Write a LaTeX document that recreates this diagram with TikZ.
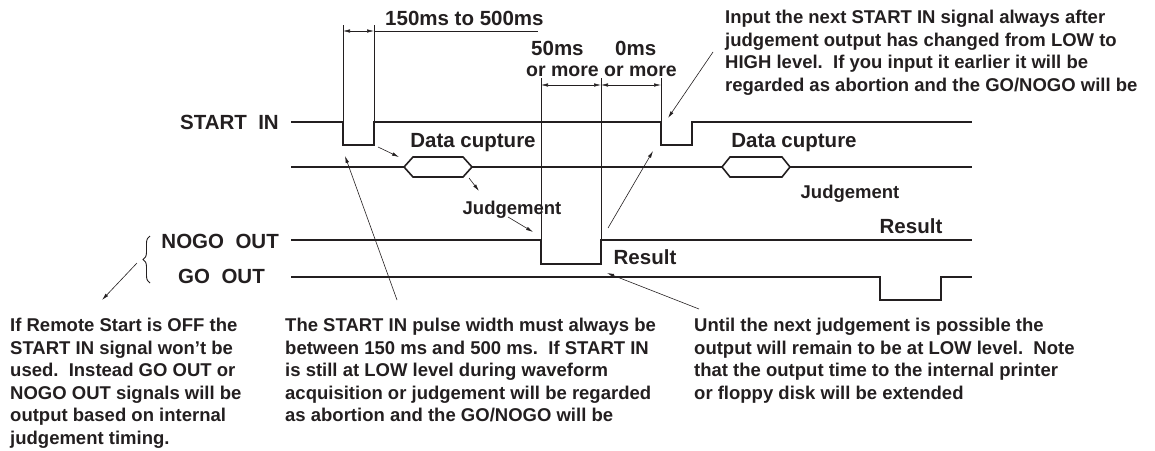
\documentclass[tikz,border=0pt]{standalone}
\usepackage{fontspec}
\setmainfont{Liberation Sans}
\usepackage{xcolor}
\usetikzlibrary{positioning,arrows.meta,calc,decorations.pathreplacing}
\definecolor{ink}{HTML}{231F20}
\tikzset{
  sig/.style={line width=1.6pt,line join=miter,ink},
  dimline/.style={line width=0.6pt,ink},
  dimarrow/.style={{Latex[length=7pt,width=3.5pt]}-{Latex[length=7pt,width=3.5pt]},line width=0.6pt,ink},
  callout/.style={-{Latex[length=7pt,width=3.5pt]},line width=0.6pt,ink},
  siglbl/.style={font=\fontsize{20.5}{24}\selectfont\bfseries,inner sep=0pt,anchor=east,text=ink},
  tlbl/.style={font=\fontsize{20.5}{24}\selectfont\bfseries,inner sep=0pt,text=ink},
  small/.style={font=\fontsize{18.5}{22}\selectfont\bfseries,inner sep=0pt,text=ink},
  para/.style={font=\fontsize{18.5}{22.5}\selectfont\bfseries,inner sep=0pt,
               align=left,anchor=north west,text=ink},
}

\begin{document}
\begin{tikzpicture}[x=1pt,y=-1pt]
  \useasboundingbox (0,0) rectangle (1155,450);

  % signal names
  \node[siglbl] (startlbl) at (279,122) {START\ \ IN};
  \node[siglbl] (nogolbl) at (279,241) {NOGO\ \ OUT};
  \node[siglbl] (golbl) at (265,276) {GO\ \ OUT};
  \coordinate (brtop) at (150,236);
  \coordinate (brbot) at (150,283);
  \coordinate (brtip) at (137,263);
  \draw[line width=0.9pt,ink,decorate,decoration={brace,amplitude=7pt}] (brbot) -- (brtop);

  % waveforms
  \draw[sig] (291,122) -- (343,122) -- (343,145) -- (374,145) -- (374,122)
    -- (661,122) -- (661,145) -- (692,145) -- (692,122) -- (972,122);
  \draw[sig] (291,167) -- (404,167) -- (413,157) -- (463,157) -- (472,167)
    -- (463,177) -- (413,177) -- (404,167);
  \draw[sig] (472,167) -- (722,167) -- (730,157) -- (782,157) -- (790,167)
    -- (782,177) -- (730,177) -- (722,167);
  \draw[sig] (790,167) -- (972,167);
  \draw[sig] (291,240) -- (541,240) -- (541,264) -- (601,264) -- (601,240) -- (972,240);
  \draw[sig] (291,277) -- (880,277) -- (880,300) -- (941,300) -- (941,277) -- (972,277);

  % timing marks
  \coordinate (w1) at (343,31);
  \coordinate (w2) at (374,31);
  \coordinate (w3) at (538,31);
  \draw[dimline] (343,122) -- (343,25);
  \draw[dimline] (374,122) -- (374,25);
  \draw[dimline] (w2) -- (w3);
  \draw[dimarrow] (w1) -- (w2);
  \node[tlbl,anchor=south west] (t150) at (385,26) {150ms to 500ms};

  \coordinate (m1) at (541,85);
  \coordinate (m2) at (601,85);
  \coordinate (m3) at (661,85);
  \draw[dimline] (541,240) -- (541,78);
  \draw[dimline] (601,240) -- (601,78);
  \draw[dimline] (661,122) -- (661,78);
  \draw[dimarrow] (m1) -- (m2);
  \draw[dimarrow] (m2) -- (m3);
  \node[tlbl,anchor=base west] (t50) at (531,55) {50ms};
  \node[tlbl,anchor=base west] (t0) at (615,55) {0ms};
  \node[tlbl,anchor=base west,font=\fontsize{19.5}{24}\selectfont\bfseries] (om1) at (526,76) {or more};
  \node[tlbl,anchor=base west,font=\fontsize{19.5}{24}\selectfont\bfseries,right=5pt of om1.base east,anchor=base west] (om2) {or more};

  % waveform labels
  \node[tlbl] (dc1) at (473,143) {Data cupture};
  \node[tlbl] (dc2) at (794,143) {Data cupture};
  \node[small] (jd1) at (512,210) {Judgement};
  \node[small] (jd2) at (850,194) {Judgement};
  \node[tlbl] (res1) at (645,257) {Result};
  \node[tlbl] (res2) at (911,226) {Result};

  % notes
  \node[para] (noteT) at (725,10) {Input the next START IN signal always after\\
    judgement output has changed from LOW to\\
    HIGH level.\ \ If you input it earlier it will be\\
    regarded as abortion and the GO/NOGO will be};
  \node[para] (noteL) at (10,318) {If Remote Start is OFF the\\
    START IN signal won't be\\
    used.\ \ Instead GO OUT or\\
    NOGO OUT signals will be\\
    output based on internal\\
    judgement timing.};
  \node[para] (noteM) at (285,318) {The START IN pulse width must always be\\
    between 150 ms and 500 ms.\ \ If START IN\\
    is still at LOW level during waveform\\
    acquisition or judgement will be regarded\\
    as abortion and the GO/NOGO will be};
  \node[para] (noteR) at (694,318) {Until the next judgement is possible the\\
    output will remain to be at LOW level.\ \ Note\\
    that the output time to the internal printer\\
    or floppy disk will be extended};

  % callouts
  \coordinate (a1) at (378,147);  \coordinate (b1) at (399,157);
  \coordinate (a2) at (469,178);  \coordinate (b2) at (479,191);
  \coordinate (a3) at (508,217);  \coordinate (b3) at (533,232);
  \coordinate (a4) at (397,300);  \coordinate (b4) at (345,156);
  \coordinate (a5) at (699,309);  \coordinate (b5) at (607,273);
  \coordinate (a6) at (608,228);  \coordinate (b6) at (653,151);
  \coordinate (a7) at (713,52);   \coordinate (b7) at (668,118);
  \coordinate (b8) at (102,300);
  \draw[callout] (a1) -- (b1);
  \draw[callout] (a2) -- (b2);
  \draw[callout] (a3) -- (b3);
  \draw[callout] (a4) -- (b4);
  \draw[callout] (a5) -- (b5);
  \draw[callout] (a6) -- (b6);
  \draw[callout] (a7) -- (b7);
  \draw[callout] (brtip) -- (b8);
\end{tikzpicture}
\end{document}
